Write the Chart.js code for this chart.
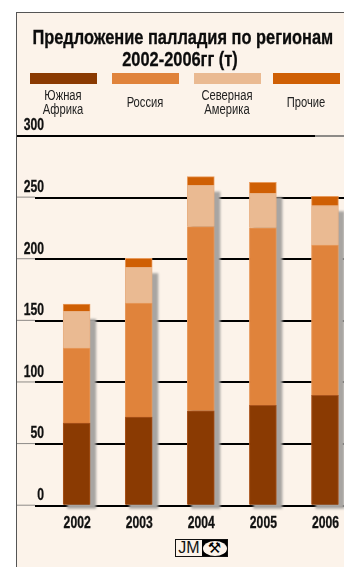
<!DOCTYPE html>
<html lang="ru">
<head>
<meta charset="utf-8">
<title>Предложение палладия по регионам</title>
<script src="https://cdn.jsdelivr.net/npm/chart.js@4"></script>
<style>
  html, body { margin: 0; height: 100%; background: #fff; overflow: hidden; }
  #frame { position: absolute; left: 16px; top: 12px; width: 328px; height: 555px; box-sizing: border-box;
           border-left: 1px solid #555; border-top: 1px solid #555; background: #fcf3ea; }
  #myChart { position: absolute; left: 0; top: 0; }
  .narrow { font-family: "Liberation Sans", sans-serif; }
  #title { position: absolute; left: 0; top: 26px; width: 360px; text-align: center; color: #0c0c0c; white-space: nowrap;
           font-size: 20px; font-weight: bold; line-height: 22px; transform: scaleX(0.82); -webkit-text-stroke: 0.3px #0c0c0c; }
  .swatch { position: absolute; top: 73px; width: 67px; height: 11px; }
  .legend-label { position: absolute; top: 88px; width: 90px; height: 28px; display: flex; align-items: center;
                  justify-content: center; text-align: center; font-size: 14px; line-height: 14px; color: #222;
                  transform: scaleX(0.8); }
  #logo { position: absolute; left: 175px; top: 539px; width: 53px; height: 18px; box-sizing: border-box;
          border: 1px solid #111; display: flex; background: #fcf3ea; }
  #logo .jm { width: 26px; text-align: center; font: 16px/16px "Liberation Sans", sans-serif; color: #111; }
  #logo .mark { flex: 1; background: #000; display: flex; align-items: center; justify-content: center; }
  #logo .oval { width: 24px; height: 15px; border-radius: 50%; background: #fcf3ea; color: #000; text-align: center;
                font: 15px/15px "DejaVu Sans", sans-serif; }
</style>
</head>
<body>
<div id="frame"></div>
<canvas id="myChart" width="356" height="567" style="width:356px;height:567px"></canvas>
<div id="title" class="narrow">Предложение палладия по регионам<br>2002-2006гг (т)</div>
<div id="legend" class="narrow"></div>
<div id="logo"><div class="jm">JM</div><div class="mark"><div class="oval">⚒</div></div></div>

<script>
const years = ["2002", "2003", "2004", "2005", "2006"]
const yTicks = [0, 50, 100, 150, 200, 250, 300]

const southAfrica = [67, 72, 77, 81.5, 89.5]
const russia = [61, 92.5, 149.5, 144, 122]
const northAmerica = [29.8, 29, 33.5, 28, 32]
const others = [5.9, 7.3, 7, 9, 7.6]

const regionNames = [["Южная", "Африка"], ["Россия"], ["Северная", "Америка"], ["Прочие"]]
const regionColors = ["#8a3a02", "#e0833b", "#eaba92", "#cf5f04"]
const edgeColors = ["#a9531c", "#e79a5e", "#e8b083", "#e89a5c"]
const swatchLeft = [30, 112, 194, 273]

// legend strip above the plot
const legendDiv = document.getElementById("legend")
let legendHTML = ""
regionNames.forEach((name, i) => {
  legendHTML += `<div class="swatch" style="left:${swatchLeft[i]}px;background:${regionColors[i]}"></div>`
  legendHTML += `<div class="legend-label" style="left:${swatchLeft[i] - 12}px">${name.join("<br>")}</div>`
})
legendDiv.innerHTML = legendHTML

// soft grey drop shadow behind each column, on top of the grid lines
const barShadow = {
  id: "barShadow",
  beforeDatasetsDraw(chart) {
    const ctx = chart.ctx
    const bottom = chart.getDatasetMeta(0).data
    const top = chart.getDatasetMeta(3).data
    ctx.save()
    ctx.filter = "blur(1px)"
    ctx.fillStyle = "#a8a5a2"
    top.forEach((bar, i) => {
      const left = bar.x - bar.width / 2
      const y = bar.y + 15
      ctx.fillRect(left + 4, y, bar.width + 2, bottom[i].base + 4 - y)
    })
    ctx.restore()
  }
}

// thin grey ends of the grid lines
const gridEnds = {
  id: "gridEnds",
  beforeDatasetsDraw(chart) {
    const ctx = chart.ctx
    const yScale = chart.scales.y
    ctx.save()
    yTicks.forEach(value => {
      const y = yScale.getPixelForValue(value)
      ctx.beginPath()
      if (value === 300) {
        ctx.strokeStyle = "#8d8a87"
        ctx.lineWidth = 2
        ctx.moveTo(315, y)
        ctx.lineTo(344, y)
        ctx.stroke()
        // the top line runs black right up to the frame
        ctx.beginPath()
        ctx.strokeStyle = "#000"
        ctx.moveTo(17, y)
        ctx.lineTo(35, y)
      } else {
        ctx.strokeStyle = "#8d8a87"
        ctx.lineWidth = 1
        ctx.moveTo(17, y - 0.5)
        ctx.lineTo(35, y - 0.5)
      }
      ctx.stroke()
    })
    ctx.restore()
  }
}

// condensed axis labels: the installed fonts have no narrow bold cut, so squeeze them
function narrowText(ctx, text, x, y, align) {
  ctx.save()
  ctx.translate(x, y)
  ctx.scale(0.76, 1)
  ctx.textAlign = align
  ctx.textBaseline = "middle"
  ctx.fillText(text, 0, 0)
  ctx.strokeText(text, 0, 0)
  ctx.restore()
}

const axisLabels = {
  id: "axisLabels",
  afterDatasetsDraw(chart) {
    const ctx = chart.ctx
    ctx.save()
    ctx.fillStyle = "#111"
    ctx.strokeStyle = "#111"
    ctx.lineWidth = 0.3
    ctx.font = "bold 16px 'Liberation Sans'"
    yTicks.forEach(value => {
      narrowText(ctx, String(value), 44, chart.scales.y.getPixelForValue(value) - 10, "right")
    })
    years.forEach((year, i) => {
      narrowText(ctx, year, chart.scales.x.getPixelForTick(i) + 0.5, 523.5, "center")
    })
    ctx.restore()
  }
}

const ctx = document.getElementById("myChart")

const makeSet = (label, data, i) => ({
  label: label,
  data: data,
  backgroundColor: regionColors[i],
  borderColor: edgeColors[i],
  borderWidth: 1,
  barThickness: 27,
  stack: "supply"
})

new Chart(ctx, {
  type: "bar",
  data: {
    labels: years,
    datasets: [
      makeSet("Южная Африка", southAfrica, 0),
      makeSet("Россия", russia, 1),
      makeSet("Северная Америка", northAmerica, 2),
      makeSet("Прочие", others, 3)
    ]
  },
  plugins: [barShadow, gridEnds, axisLabels],
  options: {
    responsive: false,
    animation: false,
    layout: { padding: { top: 136, left: 0, right: 0, bottom: 0 } },
    plugins: {
      legend: { display: false },
      tooltip: { enabled: false }
    },
    scales: {
      x: {
        stacked: true,
        afterFit: scale => { scale.height = 61.3 },
        grid: { display: false },
        border: { display: false },
        ticks: { display: false }
      },
      y: {
        stacked: true,
        min: 0,
        max: 300,
        afterFit: scale => { scale.width = 45.6 },
        afterBuildTicks: scale => { scale.ticks = yTicks.map(value => ({ value: value })) },
        border: { display: false },
        grid: { color: "#000", lineWidth: 2, tickColor: "#000", tickLength: 10.6 },
        ticks: { display: false }
      }
    }
  }
})
</script>
</body>
</html>
